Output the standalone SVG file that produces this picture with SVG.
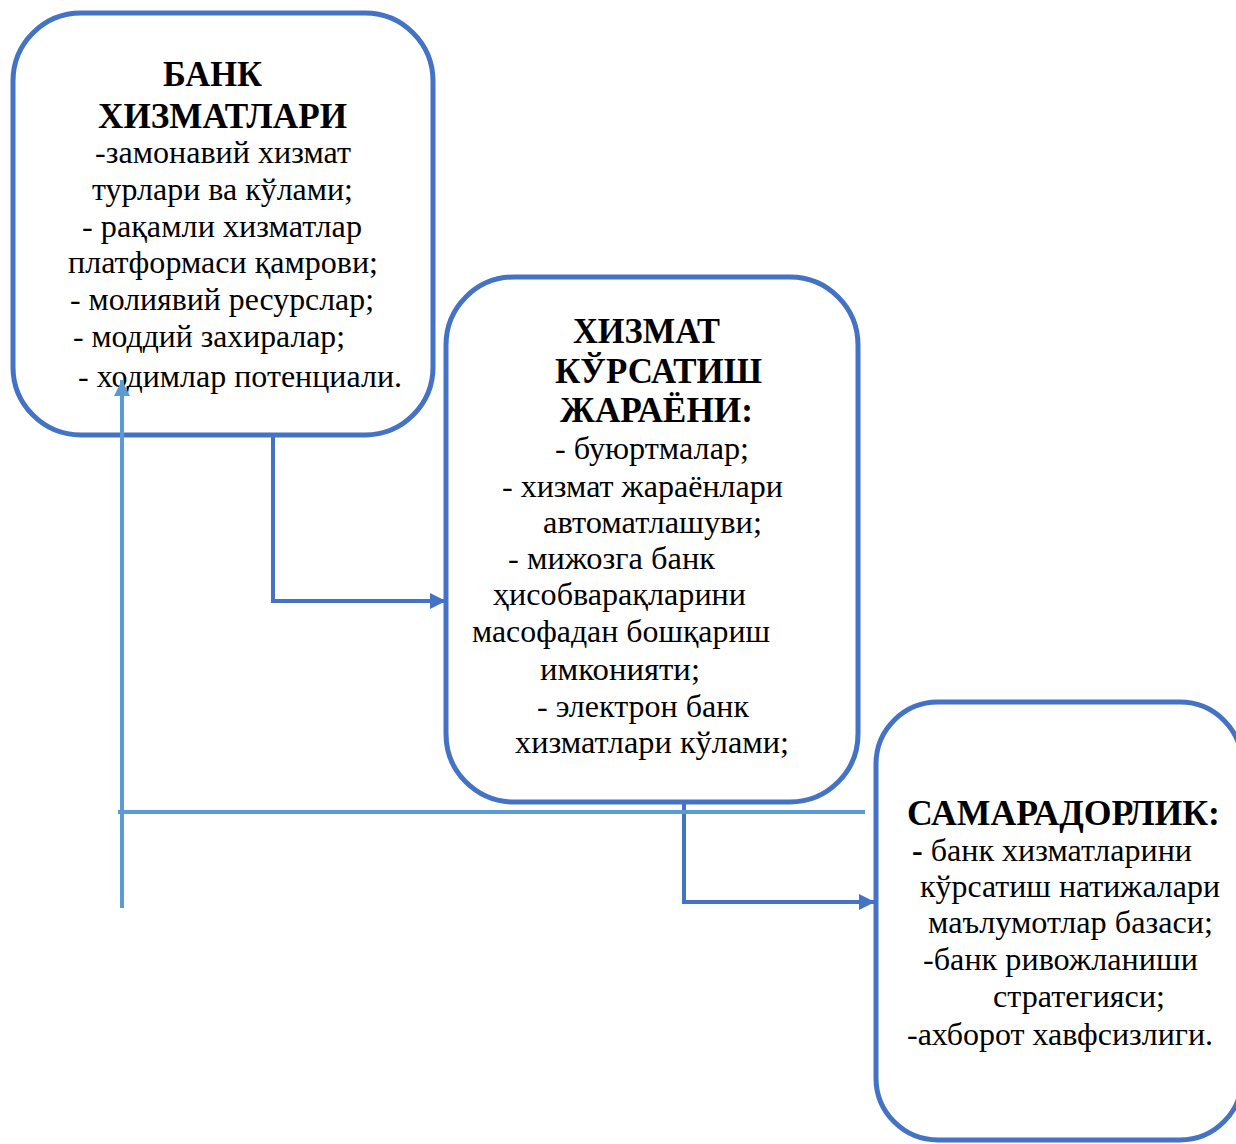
<svg xmlns="http://www.w3.org/2000/svg" width="1236" height="1144" viewBox="0 0 1236 1144">
<defs>
<style>
.box{fill:#fff;stroke:#4472C4;stroke-width:5}
.t{font-family:"Liberation Serif","Times New Roman",serif;font-size:32px;fill:#000}
.h{font-family:"Liberation Serif","Times New Roman",serif;font-size:35px;font-weight:bold;fill:#000}
.c1{fill:none;stroke:#4472C4;stroke-width:4}
.c2{fill:none;stroke:#5B9BD5;stroke-width:4}
</style>
<marker id="a1" viewBox="0 0 10 10" refX="10" refY="5" markerWidth="4" markerHeight="4" orient="auto" markerUnits="strokeWidth"><path d="M0,0 L10,5 L0,10 z" fill="#4472C4"/></marker>
<marker id="a2" viewBox="0 0 10 10" refX="10" refY="5" markerWidth="4" markerHeight="4" orient="auto" markerUnits="strokeWidth"><path d="M0,0 L10,5 L0,10 z" fill="#5B9BD5"/></marker>
</defs>
<rect width="1236" height="1144" fill="#fff"/>
<g id="node-bank">
<rect class="box" x="13" y="13" width="420" height="422" rx="68"/>
<text class="h" x="163" y="86" textLength="99" lengthAdjust="spacingAndGlyphs">БАНК</text>
<text class="h" x="98" y="128" textLength="249" lengthAdjust="spacingAndGlyphs">ХИЗМАТЛАРИ</text>
<text class="t" x="95" y="163" textLength="256" lengthAdjust="spacingAndGlyphs">-замонавий хизмат</text>
<text class="t" x="92" y="200" textLength="261" lengthAdjust="spacingAndGlyphs">турлари ва кўлами;</text>
<text class="t" x="82" y="237" textLength="280" lengthAdjust="spacingAndGlyphs">- рақамли хизматлар</text>
<text class="t" x="68" y="273" textLength="310" lengthAdjust="spacingAndGlyphs">платформаси қамрови;</text>
<text class="t" x="70" y="310" textLength="304" lengthAdjust="spacingAndGlyphs">- молиявий ресурслар;</text>
<text class="t" x="73" y="347" textLength="272" lengthAdjust="spacingAndGlyphs">- моддий захиралар;</text>
<text class="t" x="78" y="387" textLength="324" lengthAdjust="spacingAndGlyphs">- ходимлар потенциали.</text>
</g>
<g id="node-process">
<rect class="box" x="446" y="277" width="412" height="525" rx="68"/>
<text class="h" x="573" y="343" textLength="147" lengthAdjust="spacingAndGlyphs">ХИЗМАТ</text>
<text class="h" x="555" y="383" textLength="207" lengthAdjust="spacingAndGlyphs">КЎРСАТИШ</text>
<text class="h" x="560" y="422" textLength="193" lengthAdjust="spacingAndGlyphs">ЖАРАЁНИ:</text>
<text class="t" x="555" y="459" textLength="194" lengthAdjust="spacingAndGlyphs">- буюртмалар;</text>
<text class="t" x="502" y="497" textLength="281" lengthAdjust="spacingAndGlyphs">- хизмат жараёнлари</text>
<text class="t" x="543" y="533" textLength="219" lengthAdjust="spacingAndGlyphs">автоматлашуви;</text>
<text class="t" x="508" y="569" textLength="207" lengthAdjust="spacingAndGlyphs">- мижозга банк</text>
<text class="t" x="493" y="605" textLength="253" lengthAdjust="spacingAndGlyphs">ҳисобварақларини</text>
<text class="t" x="472" y="642" textLength="298" lengthAdjust="spacingAndGlyphs">масофадан бошқариш</text>
<text class="t" x="540" y="680" textLength="160" lengthAdjust="spacingAndGlyphs">имконияти;</text>
<text class="t" x="537" y="717" textLength="212" lengthAdjust="spacingAndGlyphs">- электрон банк</text>
<text class="t" x="515" y="753" textLength="274" lengthAdjust="spacingAndGlyphs">хизматлари кўлами;</text>
</g>
<g id="node-result">
<rect class="box" x="876" y="702" width="366" height="438" rx="62"/>
<text class="h" x="907" y="825" textLength="313" lengthAdjust="spacingAndGlyphs">САМАРАДОРЛИК:</text>
<text class="t" x="912" y="861" textLength="280" lengthAdjust="spacingAndGlyphs"><tspan font-weight="bold">-</tspan> банк хизматларини</text>
<text class="t" x="920" y="897" textLength="300" lengthAdjust="spacingAndGlyphs">кўрсатиш натижалари</text>
<text class="t" x="928" y="933" textLength="285" lengthAdjust="spacingAndGlyphs">маълумотлар базаси;</text>
<text class="t" x="923" y="970" textLength="275" lengthAdjust="spacingAndGlyphs">-банк ривожланиши</text>
<text class="t" x="993" y="1007" textLength="172" lengthAdjust="spacingAndGlyphs">стратегияси;</text>
<text class="t" x="907" y="1045" textLength="306" lengthAdjust="spacingAndGlyphs">-ахборот хавфсизлиги.</text>
</g>
<g id="connectors">
<path class="c1" d="M273 436 V601 H446" marker-end="url(#a1)"/>
<path class="c1" d="M684 804 V902 H875" marker-end="url(#a1)"/>
<path class="c2" d="M118 812 H865"/>
<path class="c2" d="M122 908 V380" marker-end="url(#a2)"/>
</g>
</svg>
